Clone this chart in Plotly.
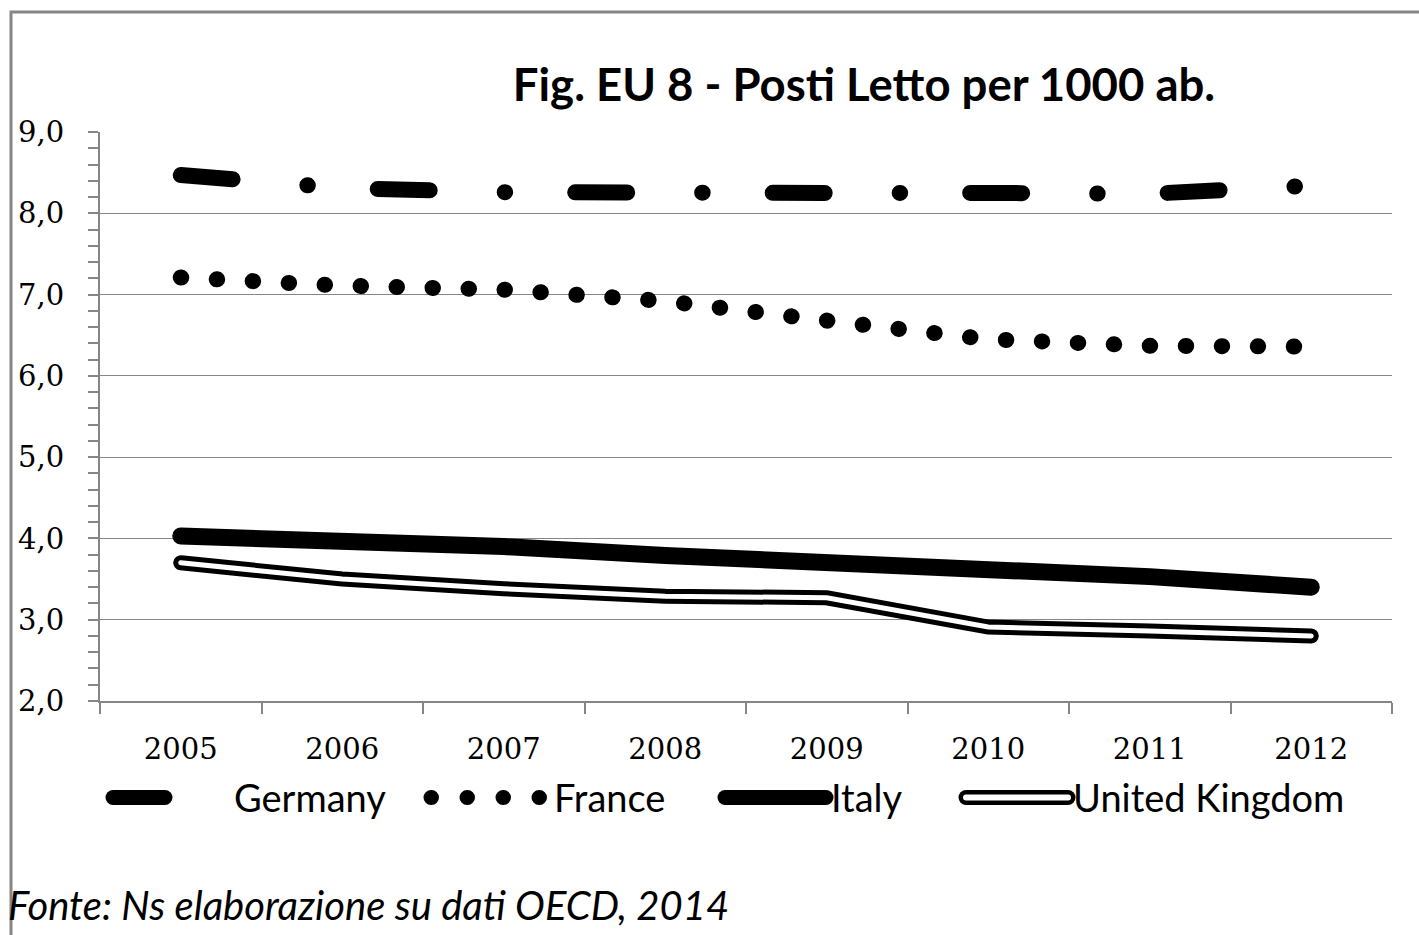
"""Posti letto per 1000 abitanti - Germania, Francia, Italia, Regno Unito (2005-2012)."""

import plotly.graph_objects as go

# dati
anni = ["2005", "2006", "2007", "2008", "2009", "2010", "2011", "2012"]
germany = [8.47, 8.31, 8.26, 8.24, 8.25, 8.25, 8.24, 8.34]
france = [7.21, 7.11, 7.06, 6.92, 6.68, 6.45, 6.37, 6.36]
italy = [4.03, 3.97, 3.90, 3.79, 3.70, 3.65, 3.53, 3.40]
uk = [3.70, 3.50, 3.38, 3.29, 3.27, 2.91, 2.86, 2.80]

titolo = "Fig. EU 8 - Posti Letto per 1000 ab."
fonte = "Fonte: Ns elaborazione su dati OECD, 2014"

SANS = "Lato, 'Open Sans', sans-serif"
SERIF = "'DejaVu Serif', serif"
GRIGIO = "#868686"
L, W = 100, 1292   # margine sinistro e larghezza area grafico (px)


def px(x):
    """pixel orizzontale -> coordinata paper"""
    return (x - L) / W


fig = go.Figure()

fig.add_trace(go.Scatter(x=anni, y=germany, name="Germany", mode="lines", legend="legend",
                         line=dict(color="black", width=16, dash="52px,75px,0.5px,70px")))
fig.add_trace(go.Scatter(x=anni, y=france, name="France", mode="lines", legend="legend2",
                         line=dict(color="black", width=16, dash="0.5px,35.5px")))
fig.add_trace(go.Scatter(x=anni, y=italy, name="Italy", mode="lines", legend="legend3",
                         line=dict(color="black", width=17)))
fig.add_trace(go.Scatter(x=anni, y=uk, name="United Kingdom", mode="lines", legend="legend4",
                         line=dict(color="black", width=15)))
# linea interna bianca -> effetto doppia linea (anche nella legenda, sovrapposta)
fig.add_trace(go.Scatter(x=anni, y=uk, name="United Kingdom", mode="lines", legend="legend5",
                         hoverinfo="skip", line=dict(color="white", width=5)))

leg_y = -0.17


def legenda(x, iw, colore="black"):
    return dict(orientation="h", x=px(x), xanchor="left", y=leg_y, yanchor="middle",
                itemwidth=iw, bgcolor="rgba(0,0,0,0)",
                font=dict(family=SANS, size=38, color=colore))


fig.update_layout(
    width=1419, height=935,
    margin=dict(l=L, r=1419 - L - W, t=132, b=234),
    paper_bgcolor="white", plot_bgcolor="white",
    separators=",.",
    title=dict(text="<b>" + titolo + "</b>", xref="paper", x=px(864), xanchor="center",
               yref="container", y=1 - 85 / 935, yanchor="middle",
               font=dict(family=SANS, size=45.5, color="black")),
    xaxis=dict(type="category", range=[-0.5, 7.5], tickson="boundaries",
               ticks="outside", ticklen=11, tickcolor=GRIGIO, tickwidth=2,
               showline=True, linecolor=GRIGIO, linewidth=2, showgrid=False,
               tickfont=dict(family=SERIF, size=29, color="black"),
               ticklabelstandoff=21),
    yaxis=dict(range=[2, 9], dtick=1, tickformat=".1f",
               ticks="outside", ticklen=10, tickcolor=GRIGIO, tickwidth=2,
               showline=True, linecolor=GRIGIO, linewidth=2,
               showgrid=True, gridcolor=GRIGIO, gridwidth=1,
               minor=dict(dtick=0.2, ticks="outside", ticklen=10,
                          tickcolor=GRIGIO, tickwidth=2, showgrid=False),
               zeroline=False,
               tickfont=dict(family=SERIF, size=29, color="black"),
               ticklabelstandoff=18),
    legend=legenda(105, 119),
    legend2=legenda(423, 121),
    legend3=legenda(717, 104),
    legend4=legenda(958, 105),
    legend5=legenda(958, 105, "rgba(0,0,0,0)"),
    showlegend=True,
)

fig.add_annotation(text=fonte, xref="paper", yref="paper", x=px(6), y=-0.3585,
                   xanchor="left", yanchor="middle", showarrow=False,
                   font=dict(family=SANS, size=40, color="black", style="italic"))

# cornice grigia esterna
fig.add_shape(type="rect", xref="paper", yref="paper",
              x0=px(11), x1=1.2, y0=-0.6, y1=1 + (132 - 12) / 569,
              line=dict(color=GRIGIO, width=3), fillcolor="rgba(0,0,0,0)", layer="below")

# estremità arrotondate come in Excel, pagina senza margini,
# simboli di legenda più spessi (plotly li limita a 10px), spostati di 3px
# perché l'estremità arrotondata non venga tagliata
post = ("document.body.style.margin='0';"
        "document.querySelectorAll('path.js-line')"
        ".forEach(function(p){p.style.strokeLinecap='round';});"
        "document.querySelectorAll('.legendlines path').forEach(function(p){"
        "var bianco = (p.style.stroke || '').indexOf('255, 255, 255') >= 0;"
        "p.style.strokeWidth = bianco ? '6px' : '15px';"
        "var m = (p.getAttribute('d') || '').match(/^M5,0h([\\d.]+)$/);"
        "if (m) { p.setAttribute('d', 'M8,0h' + (parseFloat(m[1]) - 3)); }"
        "});")

fig.write_html("out.html", post_script=post, config={"displayModeBar": False})
